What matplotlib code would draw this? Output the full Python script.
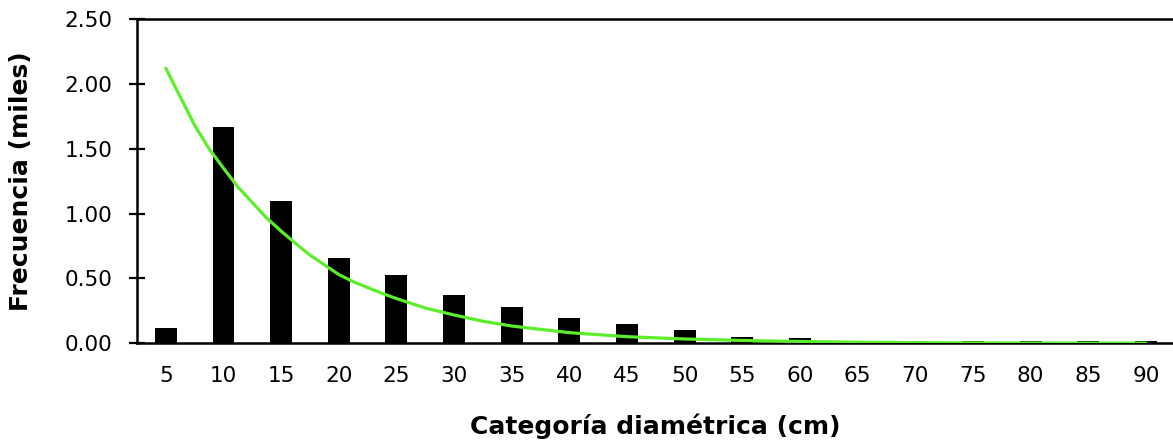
import matplotlib
matplotlib.use("Agg")
import matplotlib.pyplot as plt

# diameter classes (cm) and observed frequency (thousands)
categorias = [5, 10, 15, 20, 25, 30, 35, 40, 45, 50, 55, 60, 65, 70, 75, 80, 85, 90]
frecuencia = [0.12, 1.665, 1.10, 0.655, 0.525, 0.373, 0.283, 0.196, 0.147, 0.10,
              0.05, 0.04, 0.0, 0.015, 0.015, 0.015, 0.015, 0.015]

# fitted curve
curva_d = [5, 6.25, 7.5, 8.75, 10, 11.25, 12.5, 13.75, 15, 16.25, 17.5, 18.75,
           20, 21.25, 22.5, 23.75, 25, 27.5, 30, 32.5, 35, 40, 45, 50,
           55, 60, 65, 70, 75, 80, 85, 90]
curva_f = [2.12, 1.90, 1.68, 1.50, 1.35, 1.205, 1.085, 0.965, 0.865, 0.77, 0.68, 0.605,
           0.53, 0.475, 0.43, 0.385, 0.345, 0.272, 0.218, 0.17, 0.133, 0.082, 0.051, 0.033,
           0.022, 0.014, 0.008, 0.005, 0.003, 0.002, 0.001, 0.001]

yticks = [0.0, 0.5, 1.0, 1.5, 2.0, 2.5]

fig = plt.figure(figsize=(11.73, 4.40), dpi=100)
ax = fig.add_axes([0.1168, 0.2198, 0.8832, 0.737])

pos = [(c - 5) / 5 for c in categorias]
ax.bar(pos, frecuencia, width=0.38, color="black", zorder=2)

cpos = [(d - 5) / 5 for d in curva_d]
ax.plot(cpos, curva_f, color="#5cee2a", lw=2.3, zorder=3,
        solid_capstyle="round", solid_joinstyle="round")

ax.set_xlim(-0.5, 17.47)
ax.set_ylim(0, 2.5)
ax.set_xticks(pos)
ax.set_xticklabels([str(c) for c in categorias])
ax.set_yticks(yticks)
ax.set_yticklabels([f"{v:.2f}" for v in yticks])

ax.tick_params(axis="x", length=0, pad=16, labelsize=15.5)
ax.tick_params(axis="y", direction="inout", length=11, width=1.6, pad=12, labelsize=15.5)

for s in ["left", "bottom", "top"]:
    ax.spines[s].set_linewidth(1.8)
ax.spines["right"].set_visible(False)

ax.set_xlabel("Categoría diamétrica (cm)", fontsize=18, fontweight="bold")
ax.set_ylabel("Frecuencia (miles)", fontsize=18, fontweight="bold")
ax.xaxis.set_label_coords(0.5, -0.215)
ax.yaxis.set_label_coords(-0.1004, 0.5)

fig.savefig("out.png", dpi=100)
